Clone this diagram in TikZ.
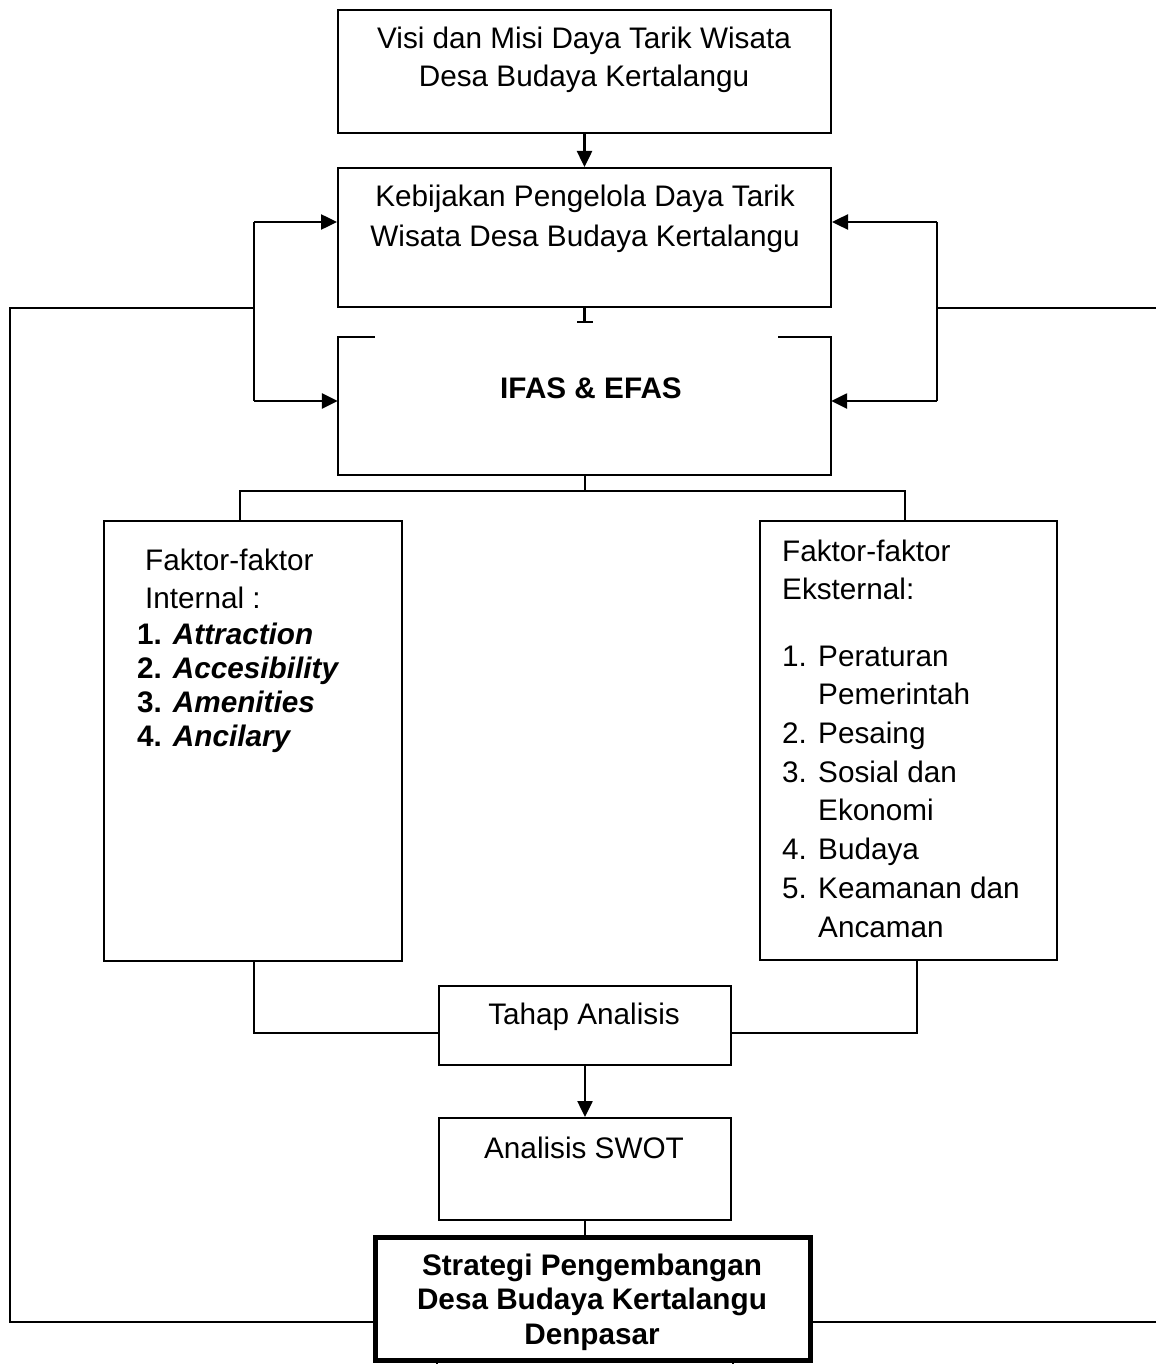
\documentclass[tikz,border=0pt]{standalone}
\usepackage{fontspec}
\setmainfont{Liberation Sans}
\usetikzlibrary{arrows.meta}
\begin{document}
\begin{tikzpicture}[x=1pt,y=-1pt,
  box/.style={draw,line width=2pt,rectangle,inner sep=0pt},
  conn/.style={line width=2.5pt},
  arr/.style={line width=2.5pt,-{Triangle[length=16pt,width=15pt]}},
  outer/.style={line width=2.5pt},
  txt/.style={font=\fontsize{29.7}{38}\selectfont,inner sep=0pt,align=center},
  ltxt/.style={inner sep=0pt,align=left,anchor=base west}]
\useasboundingbox (0,0) rectangle (1156,1364);
% boxes
\node[box,minimum width=493pt,minimum height=123pt] (b1) at (584.5,71.5) {};
\node[box,minimum width=493pt,minimum height=139pt] (b2) at (584.5,237.5) {};
\node[rectangle,inner sep=0pt,minimum width=493pt,minimum height=138pt] (b3) at (584.5,406) {};
\draw[line width=2pt] ([xshift=37pt]b3.north west) -- (b3.north west) -- (b3.south west) -- (b3.south east) -- (b3.north east) -- ([xshift=-53pt]b3.north east);
\node[box,minimum width=298pt,minimum height=440pt] (bi) at (253,741) {};
\node[box,minimum width=297pt,minimum height=439pt] (be) at (908.5,740.5) {};
\node[box,minimum width=292pt,minimum height=79pt] (b5) at (585,1025.5) {};
\node[box,minimum width=292pt,minimum height=102pt] (b6) at (585,1169) {};
\node[draw,line width=5pt,rectangle,inner sep=0pt,minimum width=435pt,minimum height=123pt] (b4) at (592.5,1298.5) {};
% texts
\node[txt] (t1) at (584,60) {Visi dan Misi Daya Tarik Wisata\\Desa Budaya Kertalangu};
\node[txt,font=\fontsize{29.7}{40}\selectfont] (t2) at (585,219) {Kebijakan Pengelola Daya Tarik\\Wisata Desa Budaya Kertalangu};
\node[txt,font=\fontsize{29.7}{38}\selectfont\bfseries] (t3) at (591,388) {IFAS \& EFAS};
\node[ltxt,font=\fontsize{29.7}{38}\selectfont] (ti1) at (145,608) {Faktor-faktor\\Internal :};
\node[ltxt,font=\fontsize{29.7}{34}\selectfont\bfseries] (ti2) at (137,746) {1. \textit{Attraction}\\2. \textit{Accesibility}\\3. \textit{Amenities}\\4. \textit{Ancilary}};
\node[ltxt,font=\fontsize{29.7}{38}\selectfont] (te1) at (782,599) {Faktor-faktor\\Eksternal:};
\node[ltxt,font=\fontsize{29.7}{38.7}\selectfont] (te2) at (782,937) {\makebox[36pt][l]{1.}Peraturan\\\hspace*{36pt}Pemerintah\\\makebox[36pt][l]{2.}Pesaing\\\makebox[36pt][l]{3.}Sosial dan\\\hspace*{36pt}Ekonomi\\\makebox[36pt][l]{4.}Budaya\\\makebox[36pt][l]{5.}Keamanan dan\\\hspace*{36pt}Ancaman};
\node[txt] (t5) at (584,1017) {Tahap Analisis};
\node[txt] (t6) at (584,1148) {Analisis SWOT};
\node[txt,font=\fontsize{29.7}{34.5}\selectfont\bfseries] (t4) at (592,1302) {Strategi Pengembangan\\Desa Budaya Kertalangu\\Denpasar};
% connectors top
\draw[arr] (b1.south) -- (b2.north);
\draw[conn,-{Bar[width=16pt]}] (b2.south) -- ++(0,15);
% left bracket
\coordinate (L1) at (254,222); \coordinate (L2) at (254,401); \coordinate (LJ) at (254,308);
\draw[conn] (L1) -- (L2);
\draw[arr] (L1) -- (L1 -| b2.west);
\draw[arr] (L2) -- (L2 -| b3.west);
% right bracket
\coordinate (R1) at (937,222); \coordinate (R2) at (937,401); \coordinate (RJ) at (937,308);
\draw[conn] (R1) -- (R2);
\draw[arr] (R1) -- (R1 -| b2.east);
\draw[arr] (R2) -- (R2 -| b3.east);
% outer loop
\coordinate (OL) at (10,308); \coordinate (OLB) at (10,1322);
\coordinate (OR) at (1156,308); \coordinate (ORB) at (1156,1322);
\draw[outer] (LJ) -- (OL) -- (OLB) -- (OLB -| b4.west);
\draw[outer] (RJ) -- (OR);
\draw[outer] (ORB) -- (ORB -| b4.east);
% split to factor boxes
\coordinate (J) at (584.5,491); \coordinate (JL) at (240,491); \coordinate (JR) at (905,491);
\draw[line width=2pt] (b3.south) -- (J);
\draw[line width=2pt] (JL |- bi.north) -- (JL) -- (JR) -- (JR |- be.north);
% to Tahap Analisis
\coordinate (TL) at (254,1033); \coordinate (TR) at (917,1033);
\draw[line width=2pt] (TL |- bi.south) -- (TL) -- (TL -| b5.west);
\draw[line width=2pt] (TR |- be.south) -- (TR) -- (TR -| b5.east);
\draw[arr] (b5.south) -- (b6.north);
\draw[line width=2pt] (b6.south) -- (b6.south |- b4.north);
% stubs below
\coordinate (S1) at (437,1364); \coordinate (S2) at (733,1364);
\draw[line width=2pt] (S1 |- b4.south) -- (S1);
\draw[line width=2pt] (S2 |- b4.south) -- (S2);
\end{tikzpicture}
\end{document}
